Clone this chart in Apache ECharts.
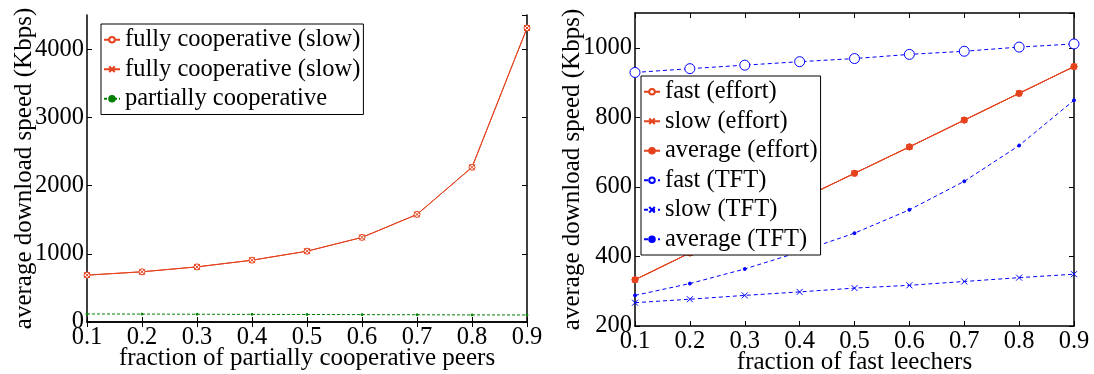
<!DOCTYPE html>
<html>
<head>
<meta charset="utf-8">
<script src="https://cdn.jsdelivr.net/npm/echarts@6/dist/echarts.min.js"></script>
<style>
    html, body { margin: 0; padding: 0; background: #fff; }
    #J-chart { width: 1094px; height: 374px; }
</style>
</head>
<body>
<div id="J-chart"></div>
<script>
// x 轴取值（两幅图相同）
var fractions = [0.1, 0.2, 0.3, 0.4, 0.5, 0.6, 0.7, 0.8, 0.9];

// 左图
var fullyFast = [687, 736, 808, 906, 1038, 1240, 1577, 2268, 4310];
var fullySlow = [687, 736, 808, 906, 1038, 1240, 1577, 2268, 4310];
var partially = [118, 116, 114, 112, 110, 108, 106, 104, 103];

// 右图
var fastEffort = [333, 410, 487, 563, 639, 715, 792, 869, 946];
var slowEffort = [333, 410, 487, 563, 639, 715, 792, 869, 946];
var avgEffort = [333, 410, 487, 563, 639, 715, 792, 869, 946];
var fastTFT = [929, 940, 950, 960, 969, 981, 990, 1002, 1011];
var slowTFT = [267, 277, 288, 298, 309, 317, 328, 339, 349];
var avgTFT = [288, 322, 364, 413, 467, 534, 616, 719, 849];

// 两条同名曲线，第二个名字加零宽字符以免图例合并
var leftNames = ['fully cooperative (slow)', 'fully cooperative (slow)\u200b', 'partially cooperative'];
var rightNames = ['fast (effort)', 'slow (effort)', 'average (effort)', 'fast (TFT)', 'slow (TFT)', 'average (TFT)'];

(function(){
    const font = 'Liberation Serif';
    const RED = '#e5411c';
    const BLUE = '#0000ff';
    const GREEN = '#008000';
    const X_SYMBOL = 'path://M0,0L10,10M10,0L0,10';

    function pairs(ys) {
        return fractions.map(function (x, i) { return [x, ys[i]]; });
    }

    function xAxis(grid, name, mirror) {
        return {
            type: 'value', gridIndex: grid, min: 0.1, max: 0.9, interval: 0.1,
            position: mirror ? 'top' : 'bottom',
            name: mirror ? '' : name, nameLocation: 'middle', nameGap: 24, nameMoveOverlap: false,
            nameTextStyle: { fontFamily: font, fontSize: 25, color: '#000' },
            axisLine: { show: true, lineStyle: { color: '#000', width: 1.5 } },
            axisTick: { show: true, inside: true, length: 5, lineStyle: { color: '#000' } },
            axisLabel: {
                show: !mirror, margin: 3, fontFamily: font, fontSize: 24.5, color: '#000',
                formatter: function (v) { return v.toFixed(1); }
            },
            splitLine: { show: false }
        };
    }

    function yAxis(grid, min, max, interval, mirror) {
        return {
            type: 'value', gridIndex: grid, min: min, max: max, interval: interval,
            position: mirror ? 'right' : 'left',
            name: mirror ? '' : 'average download speed (Kbps)',
            nameLocation: 'middle', nameGap: 50, nameMoveOverlap: false,
            nameTextStyle: { fontFamily: font, fontSize: 25, color: '#000' },
            axisLine: { show: true, lineStyle: { color: '#000', width: 1.5 } },
            axisTick: { show: true, inside: true, length: 5, lineStyle: { color: '#000' } },
            axisLabel: {
                show: !mirror, margin: 3, fontFamily: font, fontSize: 24.5, color: '#000', showMaxLabel: false,
                formatter: function (v) { return String(v); }
            },
            splitLine: { show: false }
        };
    }

    function line(name, data, xi, yi, color, symbol, size, type, filled) {
        return {
            name: name, type: 'line', xAxisIndex: xi, yAxisIndex: yi,
            data: pairs(data), symbol: symbol, symbolSize: size,
            lineStyle: { color: color, width: 1, type: type },
            itemStyle: { color: filled ? color : '#fff', borderColor: color, borderWidth: 1 },
            animation: false, silent: true
        };
    }

    function legend(names, left, top) {
        return {
            data: names, orient: 'vertical', left: left, top: top,
            backgroundColor: '#fff', borderColor: '#000', borderWidth: 1,
            padding: [1, 3, 1, 2], itemGap: 0, itemWidth: 16, itemHeight: 7, itemTextGap: 2,
            textStyle: { fontFamily: font, fontSize: 24.5, color: '#000', lineHeight: 29.5 },
            selectedMode: false
        };
    }

    const option = {
        backgroundColor: '#fff',
        animation: false,
        textStyle: { fontFamily: font },
        grid: [
            { left: 87, right: 567, top: 15, bottom: 52, outerBoundsMode: 'none', containLabel: false },
            { left: 635, right: 20, top: 13, bottom: 48, outerBoundsMode: 'none', containLabel: false }
        ],
        xAxis: [
            xAxis(0, 'fraction of partially cooperative peers', false),
            xAxis(0, '', true),
            xAxis(1, 'fraction of fast leechers', false),
            xAxis(1, '', true)
        ],
        yAxis: [
            yAxis(0, 0, 4500, 1000, false),
            yAxis(0, 0, 4500, 1000, true),
            yAxis(1, 200, 1100, 200, false),
            yAxis(1, 200, 1100, 200, true)
        ],
        legend: [legend(leftNames, 101, 24), legend(rightNames, 641, 76)],
        series: [
            line(leftNames[0], fullyFast, 0, 0, RED, 'circle', 6, 'solid', false),
            line(leftNames[1], fullySlow, 0, 0, RED, X_SYMBOL, 6, 'solid', false),
            line(leftNames[2], partially, 0, 0, GREEN, 'circle', 2, [3, 2], true),
            line(rightNames[0], fastEffort, 2, 2, RED, 'circle', 6, 'solid', false),
            line(rightNames[1], slowEffort, 2, 2, RED, X_SYMBOL, 6, 'solid', false),
            line(rightNames[2], avgEffort, 2, 2, RED, 'circle', 6, 'solid', true),
            line(rightNames[3], fastTFT, 2, 2, BLUE, 'circle', 10, [4, 3], false),
            line(rightNames[4], slowTFT, 2, 2, BLUE, X_SYMBOL, 6, [4, 3], false),
            line(rightNames[5], avgTFT, 2, 2, BLUE, 'circle', 3, [4, 3], true)
        ]
    };

    const chart = echarts.init(document.getElementById('J-chart'));
    chart.setOption(option);
})();
</script>
</body>
</html>
